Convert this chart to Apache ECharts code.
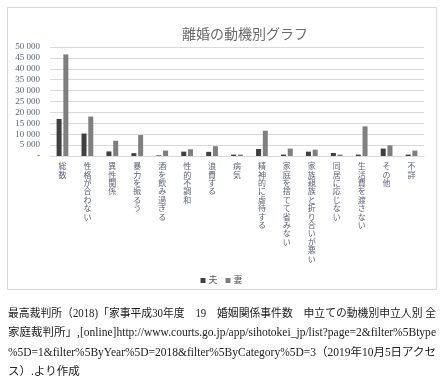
<!DOCTYPE html>
<html><head><meta charset="utf-8">
<script src="https://cdn.jsdelivr.net/npm/echarts@6/dist/echarts.min.js"></script>
<style>
html,body{margin:0;padding:0;background:#fff;}
#wrap{position:relative;width:443px;height:387px;overflow:hidden;}
#chart{position:absolute;left:0;top:0;width:443px;height:387px;}
#cap{position:absolute;left:8px;top:304px;width:428px;font-family:"Liberation Serif","Noto Sans CJK JP",serif;font-size:11.5px;line-height:19.3px;color:#222;}
#cap div{white-space:nowrap;display:block;}
#cap span{display:inline-block;transform-origin:0 50%;}
</style></head>
<body><div id="wrap"><div id="chart"></div>
<div id="cap">
<div data-fit="1"><span>最高裁判所（2018)「家事平成30年度　19　婚姻関係事件数　申立ての動機別申立人別 全</span></div>
<div data-fit="1"><span>家庭裁判所」,[online]http://www.courts.go.jp/app/sihotokei_jp/list?page=2&amp;filter%5Btype</span></div>
<div data-fit="1"><span>%5D=1&amp;filter%5ByYear%5D=2018&amp;filter%5ByCategory%5D=3（2019年10月5日アクセ</span></div>
<div><span>ス）.より作成</span></div>
</div></div>
<script>
const categories = ["総数","性格が合わない","異性関係","暴力を振るう","酒を飲み過ぎる","性的不調和","浪費する","病気","精神的に虐待する","家庭を捨てて省みない","家族親族と折り合いが悪い","同居に応じない","生活費を渡さない","その他","不詳"];
const husband = [17000,10300,2100,1300,300,2000,1900,650,3200,650,2000,1400,650,3400,650];
const wife = [46600,18100,7000,9600,2500,3100,4500,650,11600,3400,2900,650,13600,4900,2500];
const seriesNames = ["夫","妻"];
const yTicks = {min:0,max:50000,interval:5000};

// fit caption lines to the full width like justified text
document.querySelectorAll('#cap div[data-fit] span').forEach(s=>{
  const w = s.getBoundingClientRect().width;
  if (w>0) s.style.transform = 'scaleX(' + (428/w) + ')';
});

const jp = '"Liberation Serif","Noto Sans CJK JP",serif';
const chart = echarts.init(document.getElementById('chart'));
chart.setOption({
  animation:false,
  backgroundColor:'#fff',
  graphic:[{type:'rect',shape:{x:7.5,y:7.5,width:429,height:282},style:{fill:'none',stroke:'#d9d9d9',lineWidth:1},silent:true}],
  title:{text:'離婚の動機別グラフ',left:240,top:23,textAlign:'center',
    textStyle:{fontFamily:jp,fontSize:14,fontWeight:'normal',color:'#6a6a6a'}},
  legend:{data:seriesNames,left:'center',top:271,itemWidth:5,itemHeight:5,itemGap:8,
    icon:'rect',textStyle:{fontFamily:jp,fontSize:9,color:'#595959',padding:[0,0,0,-2]}},
  grid:{left:50,right:19,top:47,bottom:231,containLabel:false},
  xAxis:{type:'category',data:categories,
    axisLine:{lineStyle:{color:'#d9d9d9'}},axisTick:{show:false},
    axisLabel:{interval:0,margin:7,fontFamily:jp,fontSize:8,lineHeight:8.4,color:'#5d6078',
      verticalAlign:'top',
      formatter:v=>v.split('').join('\n')}},
  yAxis:{type:'value',min:yTicks.min,max:yTicks.max,interval:yTicks.interval,
    axisLine:{show:false},axisTick:{show:false},
    splitLine:{lineStyle:{color:'#d9d9d9'}},
    axisLabel:{margin:10,fontFamily:jp,fontSize:9,color:'#5d6380',
      formatter:v=>v===0?'-':(v/1000)+' 000'}},
  series:[
    {name:seriesNames[0],type:'bar',data:husband,barWidth:5,barGap:'35%',itemStyle:{color:'#404040'}},
    {name:seriesNames[1],type:'bar',data:wife,barWidth:5,itemStyle:{color:'#7f7f7f'}}
  ]
});
</script></body></html>
